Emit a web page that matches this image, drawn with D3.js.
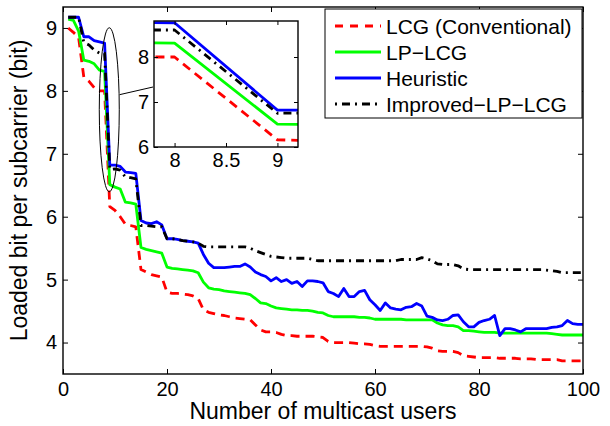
<!DOCTYPE html>
<html><head><meta charset="utf-8">
<script src="https://cdn.jsdelivr.net/npm/d3@7"></script>
<style>
html,body{margin:0;padding:0;background:#fff;}
svg{display:block;}
text{font-family:"Liberation Sans",Arial,Helvetica,sans-serif;fill:#000;}
</style></head>
<body>
<svg id="c" width="610" height="426"></svg>
<script>
// ---- data ----
const users = d3.range(1, 101);
const lcg = [9.00,8.93,8.85,8.22,8.15,8.05,8.00,8.00,6.16,6.10,
 6.00,5.88,5.86,5.84,5.16,5.12,5.08,5.06,5.04,4.80,
 4.78,4.78,4.77,4.76,4.74,4.70,4.52,4.48,4.46,4.44,
 4.43,4.41,4.39,4.38,4.37,4.36,4.28,4.20,4.17,4.17,
 4.16,4.13,4.11,4.11,4.10,4.10,4.10,4.10,4.09,4.08,
 4.02,4.00,4.00,4.00,4.00,3.99,3.98,3.98,3.97,3.95,
 3.94,3.94,3.94,3.94,3.94,3.94,3.94,3.94,3.94,3.93,
 3.91,3.87,3.86,3.86,3.86,3.84,3.79,3.78,3.77,3.76,
 3.76,3.76,3.76,3.75,3.75,3.75,3.75,3.74,3.74,3.74,
 3.73,3.73,3.73,3.73,3.73,3.71,3.71,3.71,3.71,3.71];
const lpLcg = [9.14,9.12,8.95,8.49,8.47,8.43,8.33,8.31,6.51,6.47,
 6.44,6.23,6.22,6.20,5.51,5.48,5.46,5.44,5.42,5.20,
 5.18,5.17,5.16,5.15,5.14,5.11,4.96,4.87,4.85,4.84,
 4.82,4.81,4.80,4.79,4.78,4.76,4.70,4.63,4.62,4.58,
 4.55,4.54,4.53,4.52,4.52,4.51,4.51,4.50,4.48,4.47,
 4.43,4.41,4.41,4.41,4.41,4.41,4.40,4.40,4.39,4.37,
 4.37,4.37,4.37,4.37,4.37,4.36,4.36,4.36,4.36,4.36,
 4.36,4.31,4.28,4.27,4.27,4.25,4.19,4.19,4.18,4.17,
 4.16,4.16,4.16,4.15,4.15,4.15,4.15,4.15,4.15,4.15,
 4.15,4.15,4.15,4.14,4.13,4.12,4.12,4.12,4.12,4.12];
const heuristic = [9.17,9.17,9.17,8.86,8.86,8.80,8.78,8.76,6.82,6.82,
 6.80,6.71,6.70,6.69,5.94,5.90,5.89,5.92,5.87,5.65,
 5.65,5.64,5.62,5.61,5.60,5.58,5.40,5.26,5.19,5.19,
 5.19,5.20,5.21,5.21,5.25,5.20,5.12,5.08,5.05,4.98,
 5.03,4.97,5.00,4.94,4.97,4.89,4.98,4.98,4.97,4.95,
 4.81,4.78,4.73,4.86,4.73,4.73,4.81,4.83,4.68,4.60,
 4.51,4.63,4.55,4.53,4.52,4.56,4.57,4.62,4.58,4.42,
 4.40,4.36,4.35,4.37,4.43,4.44,4.33,4.25,4.25,4.32,
 4.35,4.37,4.43,4.11,4.22,4.22,4.20,4.17,4.22,4.22,
 4.22,4.22,4.22,4.24,4.25,4.27,4.35,4.30,4.29,4.29];
const improved = [9.17,9.17,9.17,8.77,8.73,8.65,8.60,8.60,6.75,6.76,
 6.74,6.63,6.62,6.60,5.86,5.86,5.85,5.84,5.84,5.65,
 5.65,5.64,5.62,5.61,5.60,5.58,5.53,5.52,5.52,5.52,
 5.52,5.52,5.52,5.52,5.52,5.50,5.46,5.43,5.40,5.37,
 5.36,5.35,5.34,5.34,5.34,5.34,5.34,5.32,5.30,5.30,
 5.30,5.30,5.30,5.30,5.30,5.30,5.30,5.30,5.30,5.30,
 5.30,5.30,5.30,5.30,5.32,5.32,5.32,5.32,5.35,5.33,
 5.30,5.25,5.24,5.24,5.24,5.22,5.17,5.16,5.16,5.16,
 5.16,5.16,5.16,5.16,5.16,5.16,5.16,5.16,5.16,5.16,
 5.16,5.16,5.15,5.14,5.13,5.11,5.11,5.11,5.11,5.11];
const seriesNames = ["LCG (Conventional)", "LP\u2212LCG", "Heuristic", "Improved\u2212LP\u2212LCG"];
const xTicks = [0,20,40,60,80,100];
const yTicks = [4,5,6,7,8,9];
const insetXTicks = [8,8.5,9];
const insetYTicks = [6,7,8];
const xLabel = "Number of multicast users";
const yLabel = "Loaded bit per subcarrier (bit)";

// ---- styles ----
const styles = [
  {color:"#ff0000", dash:"9,6"},
  {color:"#00ff00", dash:null},
  {color:"#0000ff", dash:null},
  {color:"#000000", dash:"8,5,2,5"}
];
const allSeries = [lcg, lpLcg, heuristic, improved];

const svg = d3.select("#c");
const L = 63, R = 583, T = 7, B = 374;
const x = d3.scaleLinear().domain([0,100]).range([L,R]);
const y = d3.scaleLinear().domain([3.5, 9.333]).range([B,T]);

const font = "Liberation Sans, Arial, sans-serif";

svg.append("clipPath").attr("id","mainclip").append("rect")
  .attr("x",L).attr("y",T).attr("width",R-L).attr("height",B-T);

function drawLines(g, xs, ys, sw) {
  allSeries.forEach((vals, i) => {
    const line = d3.line().x((d,j)=>xs(users[j])).y(d=>ys(d));
    const p = g.append("path").datum(vals).attr("d", line)
      .attr("fill","none").attr("stroke", styles[i].color)
      .attr("stroke-width", sw).attr("stroke-linejoin","round");
    if (styles[i].dash) p.attr("stroke-dasharray", styles[i].dash);
  });
}

const gm = svg.append("g").attr("clip-path","url(#mainclip)");
drawLines(gm, x, y, 2.8);

// main axes (box with inward ticks)
function boxAxes(g, xs, ys, xt, yt, tl, fs, xfmt, yfmt, xlabOff, ylabOff) {
  const [x0,x1] = xs.range(), [y0,y1] = ys.range();
  const bottom = g.append("g").attr("transform",`translate(0,${y0})`)
    .call(d3.axisBottom(xs).tickValues(xt).tickSizeInner(-tl).tickSizeOuter(0).tickPadding(xlabOff).tickFormat(xfmt));
  const top = g.append("g").attr("transform",`translate(0,${y1})`)
    .call(d3.axisTop(xs).tickValues(xt).tickSizeInner(-tl).tickSizeOuter(0).tickFormat(""));
  const left = g.append("g").attr("transform",`translate(${x0},0)`)
    .call(d3.axisLeft(ys).tickValues(yt).tickSizeInner(-tl).tickSizeOuter(0).tickPadding(ylabOff).tickFormat(yfmt));
  const right = g.append("g").attr("transform",`translate(${x1},0)`)
    .call(d3.axisRight(ys).tickValues(yt).tickSizeInner(-tl).tickSizeOuter(0).tickFormat(""));
  [bottom,top,left,right].forEach(a=>{
    a.select(".domain").remove();
    a.selectAll("line").attr("stroke","#000").attr("stroke-width",1);
    a.selectAll("text").attr("font-family",font).attr("font-size",fs).attr("fill","#000");
  });
  g.append("rect").attr("x",x0).attr("y",y1).attr("width",x1-x0).attr("height",y0-y1)
    .attr("fill","none").attr("stroke","#000").attr("stroke-width",1.4);
}
boxAxes(svg.append("g"), x, y, xTicks, yTicks, 5, 20, d3.format("d"), d3.format("d"), 8, 6);

// axis labels
svg.append("text").attr("x", (L+R)/2).attr("y", 419).attr("text-anchor","middle")
  .attr("font-size",23).text(xLabel);
svg.append("text").attr("transform",`translate(27,${(T+B)/2}) rotate(-90)`)
  .attr("text-anchor","middle").attr("font-size",23).text(yLabel);

// ellipse + connector
svg.append("ellipse").attr("cx",x(8.9)).attr("cy",y(7.7)).attr("rx",10).attr("ry",82)
  .attr("fill","none").attr("stroke","#000").attr("stroke-width",1);
svg.append("line").attr("x1",x(10.9)).attr("y1",y(7.94)).attr("x2",153).attr("y2",87)
  .attr("stroke","#000").attr("stroke-width",1);

// inset
const iL = 154, iR = 298, iT = 21, iB = 147;
const xi = d3.scaleLinear().domain([7.8, 9.2]).range([iL,iR]);
const yi = d3.scaleLinear().domain([6, 8.8]).range([iB,iT]);
svg.append("rect").attr("x",iL).attr("y",iT).attr("width",iR-iL).attr("height",iB-iT).attr("fill","#fff");
svg.append("clipPath").attr("id","insetclip").append("rect")
  .attr("x",iL).attr("y",iT).attr("width",iR-iL).attr("height",iB-iT);
const gi = svg.append("g").attr("clip-path","url(#insetclip)");
drawLines(gi, xi, yi, 2.8);
boxAxes(svg.append("g"), xi, yi, insetXTicks, insetYTicks, 4, 20, d => String(d), d3.format("d"), 6, 5);

// legend
const lg = svg.append("g");
lg.append("rect").attr("x",325).attr("y",9).attr("width",257).attr("height",109)
  .attr("fill","#fff").attr("stroke","#000").attr("stroke-width",1);
seriesNames.forEach((name,i)=>{
  const yy = 26 + i*26;
  const ln = lg.append("line").attr("x1",335).attr("x2",381).attr("y1",yy).attr("y2",yy)
    .attr("stroke",styles[i].color).attr("stroke-width",2.8);
  if (styles[i].dash) ln.attr("stroke-dasharray", i===0 ? "8,7" : "2,5,8,5");
  lg.append("text").attr("x",386).attr("y",yy).attr("dy","0.36em")
    .attr("font-size",21).text(name);
});
</script>
</body></html>
